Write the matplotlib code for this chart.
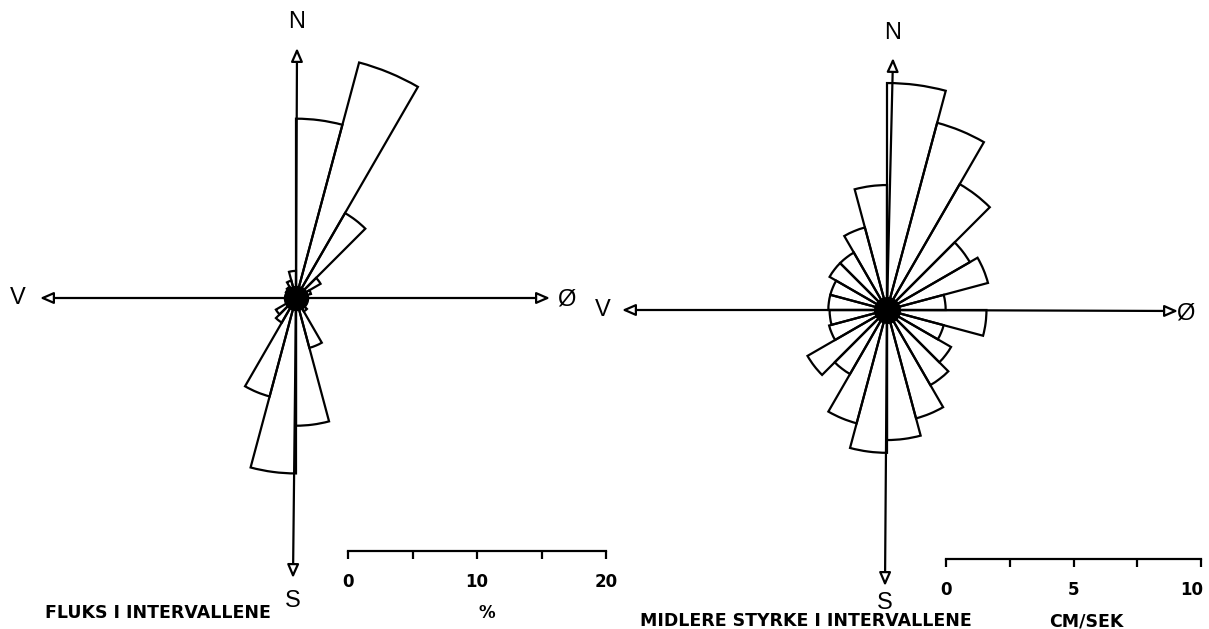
import matplotlib
matplotlib.use("Agg")
import numpy as np
import matplotlib.pyplot as plt
from matplotlib.transforms import offset_copy

W, H = 1209, 629

# ---------------- data ----------------
sector_starts = list(range(0, 360, 15))  # degrees, clockwise from north
flux_pct = [13.9, 18.9, 7.6, 2.2, 1.2, 0.9, 0.8, 0.8, 0.9, 1.2, 4.0, 9.9,
            13.6, 7.9, 2.2, 1.8, 0.8, 0.7, 0.7, 0.8, 0.9, 1.0, 1.4, 2.1]
speed_cms = [8.9, 7.6, 5.7, 3.75, 4.1, 2.3, 3.9, 2.3, 2.9, 3.4, 4.4, 5.1,
             5.6, 4.6, 2.9, 3.6, 2.35, 2.25, 2.3, 2.3, 2.6, 2.6, 3.35, 4.9]
flux_ticks = [0, 5, 10, 15, 20]
flux_ticklabels = ["0", "", "10", "", "20"]
speed_ticks = [0, 2.5, 5, 7.5, 10]
speed_ticklabels = ["0", "", "5", "", "10"]
compass = ["N", "S", "V", "Ø"]
title_left = "FLUKS I INTERVALLENE"
unit_left = "%"
title_right = "MIDLERE STYRKE I INTERVALLENE"
unit_right = "CM/SEK"

fig = plt.figure(figsize=(W / 100, H / 100), dpi=100)
fig.patch.set_facecolor("white")


def px_axes(x0, y0, x1, y1, **kw):
    return fig.add_axes([x0 / W, 1 - y1 / H, (x1 - x0) / W, (y1 - y0) / H], **kw)


LW = 1.6
label_font = dict(family="DejaVu Sans", fontweight="bold")


def rose(cx, cy, k, rmax, values, disk):
    R = rmax * k
    ax = px_axes(cx - R, cy - R, cx + R, cy + R, projection="polar")
    ax.set_theta_zero_location("N")
    ax.set_theta_direction(-1)
    ax.bar(np.deg2rad(sector_starts), values, width=np.deg2rad(15), align="edge",
           fill=False, edgecolor="black", linewidth=LW, zorder=3)
    ax.scatter([0], [0], s=disk, c="black", zorder=4)
    ax.set_ylim(0, rmax)
    ax.set_axis_off()
    ax.patch.set_alpha(0)
    return ax


def scale_bar(x0, y, k, vmax, ticks, labels, last_shift=0):
    ax = px_axes(x0, y - 2, x0 + vmax * k, y)
    ax.set_xlim(0, vmax)
    ax.set_ylim(0, 1)
    for s in ["left", "right", "top"]:
        ax.spines[s].set_visible(False)
    ax.spines["bottom"].set_linewidth(LW)
    ax.set_yticks([])
    ax.set_xticks(ticks)
    ax.set_xticklabels(labels, fontsize=12, **label_font)
    ax.tick_params(axis="x", direction="out", length=6, width=LW, pad=10)
    ax.patch.set_alpha(0)
    if last_shift:
        lab = ax.get_xticklabels()[-1]
        lab.set_transform(offset_copy(lab.get_transform(), fig=fig,
                                      x=last_shift, y=0, units="dots"))
    return ax


# left rose: % flux
kL = 12.9
rose(296, 298, kL, 21.5, flux_pct, disk=300)
scale_bar(348, 551, kL, 20, flux_ticks, flux_ticklabels)

# right rose: cm/s
kR = 25.5
rose(887, 310, kR, 10.5, speed_cms, disk=340)
scale_bar(946, 559, kR, 10, speed_ticks, speed_ticklabels, last_shift=-9)

# overlay for compass arrows and texts
ov = px_axes(0, 0, W, H)
ov.set_xlim(0, W)
ov.set_ylim(H, 0)
ov.axis("off")
ov.patch.set_alpha(0)

arrow_kw = dict(arrowstyle="-|>,head_length=0.8,head_width=0.35", fc="white",
                ec="black", lw=LW, shrinkA=0, shrinkB=0)


def compass_arrows(c, tips, label_pos):
    for tip, lp, txt in zip(tips, label_pos, compass):
        ov.annotate("", xy=tip, xytext=c, arrowprops=arrow_kw)
        ov.text(lp[0], lp[1], txt, fontsize=17, family="Liberation Sans",
                ha="center", va="center")


compass_arrows((296, 298), [(297, 48), (293, 578), (40, 298), (550, 298)],
               [(297, 22), (293, 601), (18, 298), (566, 299)])
compass_arrows((887, 310), [(893, 58), (885, 586), (622, 310), (1178, 311)],
               [(893, 33), (885, 603), (603, 310), (1185, 313)])

ov.text(45, 613, title_left, fontsize=12.5, ha="left", va="center", **label_font)
ov.text(487, 613, unit_left, fontsize=12, ha="center", va="center", **label_font)
ov.text(640, 621, title_right, fontsize=12.5, ha="left", va="center", **label_font)
ov.text(1086, 621, unit_right, fontsize=12.5, ha="center", va="center", **label_font)

fig.savefig("out.png", dpi=100, facecolor="white")
